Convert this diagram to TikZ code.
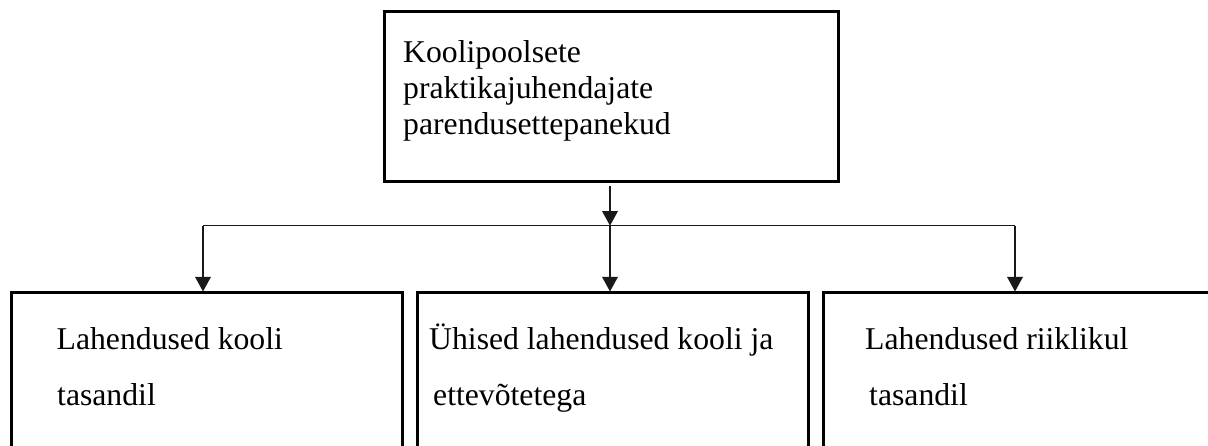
\documentclass[tikz,border=0pt]{standalone}
\usepackage{fontspec}
\setmainfont{Liberation Serif}
\usetikzlibrary{arrows.meta}
\tikzset{
  box/.style={draw=black, line width=2.8pt, rectangle, inner sep=0pt, anchor=north west},
  conn/.style={draw=black!90, line width=1.4pt},
  arr/.style={conn, -{Triangle[width=15.5pt,length=14.5pt]}},
  txt/.style={anchor=base west, inner sep=0pt, font=\fontsize{31.7pt}{36pt}\selectfont}
}
\begin{document}
\begin{tikzpicture}[x=1pt,y=-1pt]
\clip (0,0) rectangle (1208,446);
\fill[white] (0,0) rectangle (1208,446);
% boxes
\node[box, minimum width=454pt, minimum height=170pt] (top) at (383,10) {};
\node[box, minimum width=391pt, minimum height=200pt] (L) at (10,291.5) {};
\node[box, minimum width=391pt, minimum height=200pt] (M) at (416,291.5) {};
\node[box, minimum width=400pt, minimum height=200pt] (R) at (822,291.5) {};
% texts
\node[txt] (t1) at (403,63) {Koolipoolsete};
\node[txt] (t2) at (403,99) {praktikajuhendajate};
\node[txt] (t3) at (403,135) {parendusettepanekud};
\node[txt] (l1) at (56.5,350) {Lahendused kooli};
\node[txt] (l2) at (57,405) {tasandil};
\node[txt] (m1) at (429,350) {Ühised lahendused kooli ja};
\node[txt] (m2) at (433,405) {ettevõtetega};
\node[txt] (r1) at (865,350) {Lahendused riiklikul};
\node[txt] (r2) at (869,405) {tasandil};
% connectors
\coordinate (hub) at (610,225.7);
\coordinate (hl) at (203,225.7);
\coordinate (hr) at (1015,225.7);
\draw[arr] (top.south -| hub) ++(0,3) -- (hub);
\draw[conn] (hl) -- (hr);
\draw[arr] (hl) -- (hl |- L.north);
\draw[arr] (hub) -- (hub |- M.north);
\draw[arr] (hr) -- (hr |- R.north);
\end{tikzpicture}
\end{document}
